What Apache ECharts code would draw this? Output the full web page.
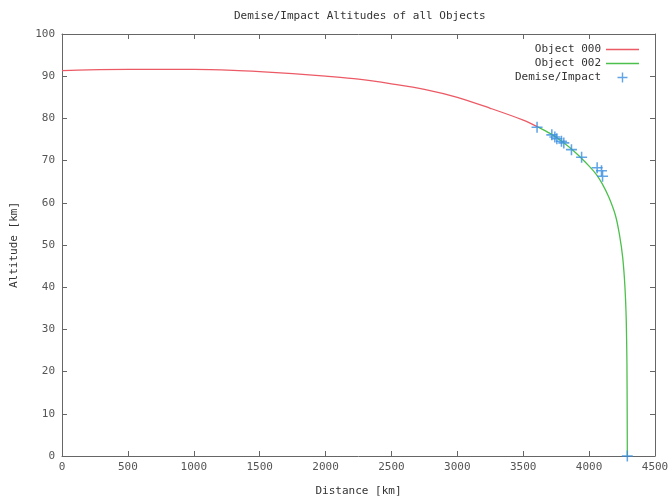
<!DOCTYPE html>
<html>
<head>
<meta charset="utf-8">
<title>Demise/Impact Altitudes of all Objects</title>
<script src="https://cdn.jsdelivr.net/npm/echarts@6/dist/echarts.min.js"></script>
<style>
    html, body { margin: 0; padding: 0; background: #fff; }
    #chart { width: 668px; height: 500px; }
</style>
</head>
<body>
<div id="chart"></div>
<script>
// distance [km], altitude [km]
const object000 = [
    [0, 91.3], [200, 91.5], [500, 91.6], [1000, 91.6], [1300, 91.4], [1500, 91.1],
    [1750, 90.6], [2000, 90.0], [2250, 89.3], [2500, 88.2], [2750, 86.9],
    [3000, 85.0], [3250, 82.4], [3500, 79.6], [3610, 78.0],
];
const object002 = [
    [3610, 78.0], [3700, 76.5], [3800, 74.4], [3900, 71.8], [4000, 68.7], [4050, 66.9],
    [4100, 64.5], [4150, 61.3], [4200, 57.0], [4230, 52.5], [4255, 47.0],
    [4272, 40.0], [4282, 32.0], [4287, 22.0], [4289, 10.0], [4290, 0],
];
const demiseImpact = [
    [3605, 77.9], [3717, 76.1], [3740, 75.6], [3755, 75.2], [3790, 74.6], [3808, 74.2],
    [3866, 72.6], [3943, 70.8], [4061, 68.3], [4094, 67.6], [4102, 66.3], [4290, 0],
];
const xTicks = [0, 4500, 500];
const yTicks = [0, 100, 10];

const font = 'DejaVu Sans Mono';
const axisColor = '#666';
const blue = '#3a8fe0';
const plus = 'path://M4.3,0h1.4v4.3h4.3v1.4h-4.3v4.3h-1.4v-4.3h-4.3v-1.4h4.3z';
const dash = 'path://M0,0h33v1.4h-33z';

let chart = echarts.init(document.getElementById('chart'));

function xAxis(pos, show) {
    return {
        type: 'value',
        position: pos,
        min: xTicks[0],
        max: xTicks[1],
        interval: xTicks[2],
        name: show ? 'Distance [km]' : '',
        nameLocation: 'middle',
        nameGap: 30,
        nameTextStyle: {fontFamily: font, fontSize: 11, color: '#333'},
        axisLine: {show: true, onZero: false, lineStyle: {color: axisColor, width: 1}},
        axisTick: {show: true, inside: false, length: -5, lineStyle: {color: axisColor}},
        axisLabel: {show: show, fontFamily: font, fontSize: 11, color: '#555', margin: 6,
            formatter: (v) => String(v)},
        splitLine: {show: false},
    };
}

function yAxis(pos, show) {
    return {
        type: 'value',
        position: pos,
        min: yTicks[0],
        max: yTicks[1],
        interval: yTicks[2],
        name: show ? 'Altitude [km]' : '',
        nameLocation: 'middle',
        nameGap: 42,
        nameRotate: 90,
        nameTextStyle: {fontFamily: font, fontSize: 11, color: '#333'},
        axisLine: {show: true, onZero: false, lineStyle: {color: axisColor, width: 1}},
        axisTick: {show: true, inside: false, length: -5, lineStyle: {color: axisColor}},
        axisLabel: {show: show, fontFamily: font, fontSize: 11, color: '#555', margin: 7,
            formatter: (v) => String(v)},
        splitLine: {show: false},
    };
}

const option = {
    animation: false,
    backgroundColor: '#fff',
    title: {
        text: 'Demise/Impact Altitudes of all Objects',
        left: 229,
        top: 6,
        textStyle: {fontFamily: font, fontSize: 11, fontWeight: 'normal', color: '#333'},
    },
    legend: {
        orient: 'vertical',
        right: 24,
        top: 39,
        align: 'right',
        itemWidth: 33,
        itemHeight: 10,
        itemGap: 3,
        textStyle: {fontFamily: font, fontSize: 11, color: '#333'},
        data: [
            {name: 'Object 000', icon: dash},
            {name: 'Object 002', icon: dash},
            {name: 'Demise/Impact', icon: plus, itemStyle: {color: blue}},
        ],
    },
    grid: {left: 62, right: 13, top: 34, bottom: 44, outerBoundsMode: 'none'},
    xAxis: [xAxis('bottom', true), xAxis('top', false)],
    yAxis: [yAxis('left', true), yAxis('right', false)],
    series: [
        {
            name: 'Object 000',
            type: 'line',
            data: object000,
            symbol: 'none',
            smooth: 0.3,
            color: '#ec5a66',
            lineStyle: {width: 1.3, color: '#ec5a66'},
        },
        {
            name: 'Object 002',
            type: 'line',
            data: object002,
            symbol: 'none',
            smooth: 0.2,
            color: '#4cc04c',
            lineStyle: {width: 1.3, color: '#4cc04c'},
        },
        {
            name: 'Demise/Impact',
            type: 'scatter',
            data: demiseImpact,
            symbol: plus,
            symbolSize: 11,
            color: blue,
            itemStyle: {color: blue},
            z: 5,
        },
    ],
};

chart.setOption(option);
</script>
</body>
</html>
